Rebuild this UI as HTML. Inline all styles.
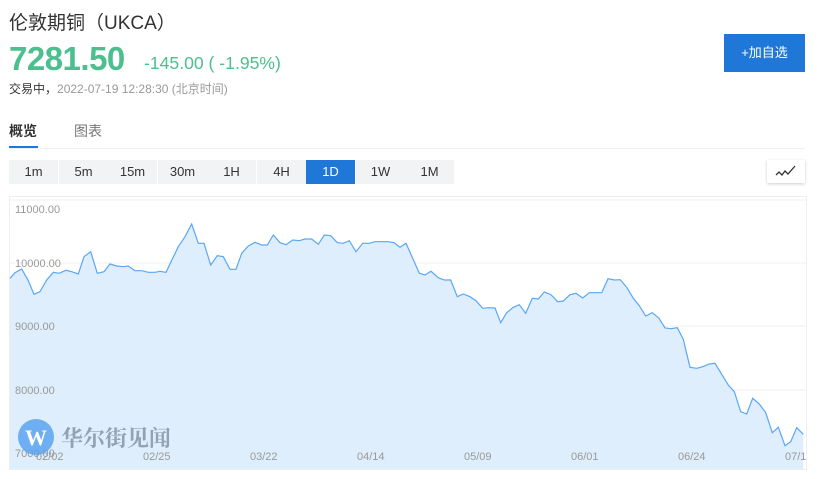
<!DOCTYPE html>
<html><head><meta charset="utf-8"><style>
body{margin:0;width:819px;height:479px;background:#fff;font-family:"Liberation Sans","Noto Sans CJK SC",sans-serif;position:relative;overflow:hidden}
.a{position:absolute;white-space:nowrap}
.tb{position:absolute;top:160px;height:24px;width:49px;background:#f2f3f5;color:#333;font-size:13px;line-height:24px;text-align:center}
</style></head><body>
<div class="a" style="left:9px;top:8px;font-size:19px;color:#333">伦敦期铜（UKCA）</div>
<div class="a" style="left:9px;top:40px;font-size:33px;font-weight:bold;color:#4cbf8e;letter-spacing:-0.5px">7281.50</div>
<div class="a" style="left:144px;top:53px;font-size:17.6px;color:#4cbf8e">-145.00 ( -1.95%)</div>
<div class="a" style="left:9px;top:80px;font-size:12px;color:#333">交易中，<span style="color:#999">2022-07-19 12:28:30 (北京时间)</span></div>
<div class="a" style="left:724px;top:34px;width:81px;height:38px;background:#1f78d8;color:#fff;font-size:13px;line-height:38px;text-align:center">+加自选</div>
<div class="a" style="left:9px;top:121px;font-size:14px;color:#333;font-weight:bold">概览</div>
<div class="a" style="left:74px;top:121px;font-size:14px;color:#777">图表</div>
<div class="a" style="left:9px;top:146px;width:29px;height:2px;background:#1f78d8"></div>
<div class="a" style="left:9px;top:148px;width:796px;height:1px;background:#eef0f3"></div>
<div class="tb" style="left:9px">1m</div><div class="tb" style="left:59px">5m</div><div class="tb" style="left:108px">15m</div><div class="tb" style="left:158px">30m</div><div class="tb" style="left:207px">1H</div><div class="tb" style="left:257px">4H</div><div class="tb" style="left:306px;background:#1f78d8;color:#fff">1D</div><div class="tb" style="left:356px">1W</div><div class="tb" style="left:405px">1M</div>
<div class="a" style="left:767px;top:160px;width:38px;height:23px;background:#fff;box-shadow:0 1px 3px rgba(0,0,0,.2)"><svg width="38" height="23"><polyline points="9,15 12,12 15,15 18,11 21,14 28,6" fill="none" stroke="#333" stroke-width="1.3"/></svg></div>
<svg class="a" style="left:0;top:0" width="819" height="479">
<rect x="9.5" y="196.5" width="797" height="273" fill="none" stroke="#eceef1"/>
<g stroke="#eef0f2"><line x1="10" y1="200" x2="806" y2="200"/><line x1="10" y1="263" x2="806" y2="263"/><line x1="10" y1="326" x2="806" y2="326"/><line x1="10" y1="390" x2="806" y2="390"/></g>
<polygon fill="#dfeefc" points="10,469 10,278.3 15,272.7 21.7,269 28.3,280.7 34,294.3 40,291.7 46.7,280 53.3,272.3 59.3,273.3 66,270.3 71.7,271.7 78.3,274 84,256.7 90.7,251.7 97.3,273.3 104,271.7 110,264 116.7,266 123.3,266.7 128.3,266 135,270.7 141.7,270.7 148.3,272.3 155,272.3 160,271.3 166,272.3 172.7,258.3 178.3,246.7 185,236.7 191.7,224 198.3,243.3 204,243.3 210.7,265 217.3,255.7 223.3,256.7 230,269.3 236,269.3 241.7,253.3 248.3,246 255,242.3 261.7,245 267.3,245 273.3,235 280,242.7 286,244.7 292.7,240 299.3,240.7 305,239 311.7,239 318.3,244.3 324.3,235 330.7,235.7 337.3,242.7 343.3,243.3 349.3,240.7 356,251.7 362.7,243.3 369.3,243.3 375,241.7 381.7,241.7 388.3,241.7 394,242.7 400,247.3 406,243.3 412.7,258.3 419.3,273.3 425,275 431,271.3 438.3,277.7 444.3,280 450.7,280 457.3,296.7 463.3,294 470,296.7 476,300.7 482.7,308.3 488.3,307.7 495,308 500.7,322.7 506.7,312.7 513.3,307.3 519.3,304.7 525.7,313.3 532.3,298.3 538.3,299 544.3,292 551,294.7 557.7,301.7 563.3,301 570,294.7 576,293.3 582.7,298 589.3,292.7 595,292.7 601.7,292.7 608,278.7 614.3,280 620.3,279.7 626.7,287.3 633.3,298.3 639.3,305.7 645.7,316 652.3,312.7 659,318.3 665,328 671,328.7 677.3,327.7 683.3,339.3 690,367.3 696.7,368.3 702.7,366.7 709.3,364 715,363.3 721.7,374.3 728.3,385 734.3,391.7 740.7,411.7 746.7,414 752.7,398.3 759.3,404 765.7,412.7 772.3,432.7 778.3,427.3 785,445.7 790.7,441.7 796.7,427.7 803.3,434.3 803.3,469"/>
<polyline fill="none" stroke="#5aa7f5" stroke-width="1.2" points="10,278.3 15,272.7 21.7,269 28.3,280.7 34,294.3 40,291.7 46.7,280 53.3,272.3 59.3,273.3 66,270.3 71.7,271.7 78.3,274 84,256.7 90.7,251.7 97.3,273.3 104,271.7 110,264 116.7,266 123.3,266.7 128.3,266 135,270.7 141.7,270.7 148.3,272.3 155,272.3 160,271.3 166,272.3 172.7,258.3 178.3,246.7 185,236.7 191.7,224 198.3,243.3 204,243.3 210.7,265 217.3,255.7 223.3,256.7 230,269.3 236,269.3 241.7,253.3 248.3,246 255,242.3 261.7,245 267.3,245 273.3,235 280,242.7 286,244.7 292.7,240 299.3,240.7 305,239 311.7,239 318.3,244.3 324.3,235 330.7,235.7 337.3,242.7 343.3,243.3 349.3,240.7 356,251.7 362.7,243.3 369.3,243.3 375,241.7 381.7,241.7 388.3,241.7 394,242.7 400,247.3 406,243.3 412.7,258.3 419.3,273.3 425,275 431,271.3 438.3,277.7 444.3,280 450.7,280 457.3,296.7 463.3,294 470,296.7 476,300.7 482.7,308.3 488.3,307.7 495,308 500.7,322.7 506.7,312.7 513.3,307.3 519.3,304.7 525.7,313.3 532.3,298.3 538.3,299 544.3,292 551,294.7 557.7,301.7 563.3,301 570,294.7 576,293.3 582.7,298 589.3,292.7 595,292.7 601.7,292.7 608,278.7 614.3,280 620.3,279.7 626.7,287.3 633.3,298.3 639.3,305.7 645.7,316 652.3,312.7 659,318.3 665,328 671,328.7 677.3,327.7 683.3,339.3 690,367.3 696.7,368.3 702.7,366.7 709.3,364 715,363.3 721.7,374.3 728.3,385 734.3,391.7 740.7,411.7 746.7,414 752.7,398.3 759.3,404 765.7,412.7 772.3,432.7 778.3,427.3 785,445.7 790.7,441.7 796.7,427.7 803.3,434.3"/>
<g font-family="Liberation Sans,sans-serif" font-size="11" fill="#999">
<text x="15" y="213">11000.00</text><text x="15" y="267">10000.00</text><text x="15" y="330">9000.00</text><text x="15" y="394">8000.00</text><text x="15" y="457">7000.00</text>
<text x="36" y="460">02/02</text><text x="143" y="460">02/25</text><text x="250" y="460">03/22</text><text x="357" y="460">04/14</text><text x="464" y="460">05/09</text><text x="571" y="460">06/01</text><text x="678" y="460">06/24</text><text x="785" y="460">07/1</text>
</g>
<circle cx="36" cy="437" r="18" fill="#5aa2f0" opacity="0.85"/>
<text x="36" y="445" font-family="Liberation Serif,serif" font-weight="bold" font-size="22" fill="#fff" text-anchor="middle">W</text>
<text x="61" y="446" font-family="Noto Serif CJK SC,serif" font-weight="bold" font-size="22" fill="#8a9aab" opacity="0.9">华尔街见闻</text>
</svg>
</body></html>
